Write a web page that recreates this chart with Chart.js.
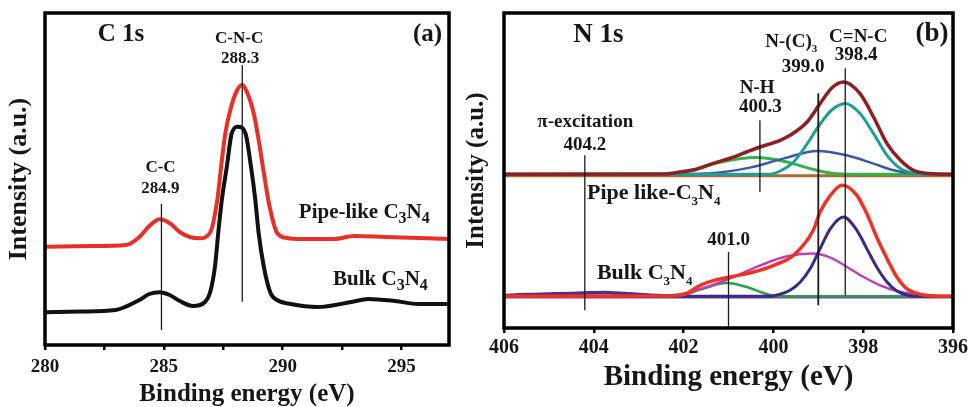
<!DOCTYPE html>
<html>
<head>
<meta charset="utf-8">
<script src="https://cdn.jsdelivr.net/npm/chart.js@4.4.1/dist/chart.umd.min.js"></script>
<style>
  html, body { margin: 0; padding: 0; background: #fff; }
  #wrap { position: relative; width: 971px; height: 407px; overflow: hidden; }
  canvas { position: absolute; top: 0; }
  #c1s { left: 0; }
  #n1s { left: 455px; }
</style>
</head>
<body>
<div id="wrap">
  <canvas id="c1s" width="455" height="407" style="width:455px;height:407px"></canvas>
  <canvas id="n1s" width="516" height="407" style="width:516px;height:407px"></canvas>
</div>
<script>
// ---------- C 1s spectra (binding energy in eV, intensity in a.u.) ----------
const c1sPipeEnergy = [280.0, 282.0, 283.41, 283.97, 284.39, 284.82, 285.24, 285.67, 286.09, 286.51, 286.94, 287.25, 287.41, 287.59, 287.83, 288.07, 288.29, 288.55, 288.78, 288.99, 289.21, 289.42, 289.77, 290.2, 290.76, 292.17, 293.02, 294.29, 297.0];
const c1sPipe       = [98.3, 99, 100, 108, 119, 125.7, 122, 113, 108, 106.7, 112, 145, 178, 212, 238, 254, 260, 250, 232, 205, 172, 142, 112, 107, 106, 106, 109, 108, 106];

const c1sBulkEnergy = [280.0, 281.5, 282.97, 283.97, 284.39, 284.82, 285.24, 285.67, 286.23, 286.73, 286.94, 287.15, 287.29, 287.44, 287.65, 287.86, 288.13, 288.43, 288.67, 288.85, 288.99, 289.21, 289.49, 289.77, 290.34, 291.47, 292.89, 293.6, 294.73, 295.72, 297.0];
const c1sBulk       = [32.7, 33.5, 35, 45, 51, 52.7, 50, 44, 39, 43, 52, 78, 112, 145, 178, 212, 218.3, 212, 178, 145, 112, 78, 52, 45, 41, 38, 43, 46, 44, 41, 41];

// C 1s peak assignments (eV) and the intensity span of each marker line
const c1sPeakEnergy = [284.9, 288.3];
const c1sPeakName   = ['C-C', 'C-N-C'];
const c1sMarkFrom   = [15, 43.3];
const c1sMarkTo     = [141, 280];

// ---------- N 1s spectra, pipe-like C3N4 ----------
const pipeEnvEnergy   = [406, 402.5, 402.08, 401.7, 401.34, 400.95, 400.6, 400.3, 399.85, 399.63, 399.25, 398.96, 398.7, 398.44, 398.07, 397.77, 397.47, 397.17, 396.88, 396.51, 396];
const pipeEnv         = [153.7, 154, 156, 159, 164.7, 170, 176, 181, 187.7, 192.7, 206, 224.4, 240, 246, 234.4, 211, 184.4, 167.7, 157.7, 154.4, 153.7];
const pipeCNCEnergy   = [406, 400.1, 399.85, 399.55, 399.25, 398.96, 398.7, 398.4, 398.07, 397.77, 397.47, 397.17, 396.88, 396.6, 396];
const pipeCNC         = [153.7, 153.7, 157, 166, 184, 204, 218, 224.4, 214.4, 194.4, 172.7, 159.4, 154.7, 153.9, 153.7];
const pipeNC3Energy   = [406, 402.2, 401.48, 400.52, 399.78, 399.03, 398.37, 397.77, 397.32, 396.88, 396.3, 396];
const pipeNC3         = [153.7, 153.7, 154.4, 160.4, 169.4, 177, 172.7, 164.4, 157.7, 154.4, 153.7, 153.7];
const pipeNHEnergy    = [406, 402.52, 401.93, 401.26, 400.37, 399.7, 399.18, 398.66, 398.2, 396];
const pipeNH          = [153.7, 153.7, 156, 165, 170.4, 166, 159.4, 154.4, 153.7, 153.7];
const pipeBaseEnergy  = [406, 396];
const pipeBase        = [152.2, 152.2];

// ---------- N 1s spectra, bulk C3N4 ----------
const bulkEnvEnergy   = [406, 402.5, 402.08, 401.93, 401.63, 401.26, 400.89, 400.44, 399.99, 399.55, 399.11, 398.96, 398.73, 398.47, 398.14, 397.92, 397.7, 397.47, 397.25, 397.03, 396.73, 396.3, 396];
const bulkEnv         = [31.7, 31.9, 32.7, 34.4, 42.7, 48.4, 51.7, 56, 62.7, 72.7, 98, 116, 132.7, 142.7, 132.7, 114.4, 91, 69.4, 51, 39.4, 33.7, 31.8, 31.7];
const bulkCNCEnergy   = [406, 400.1, 399.85, 399.63, 399.4, 399.18, 398.96, 398.73, 398.44, 398.14, 397.92, 397.7, 397.47, 397.25, 397.03, 396.8, 396];
const bulkCNC         = [31.7, 31.7, 33.7, 37.7, 46, 59.4, 79.4, 99.4, 111, 97.7, 79.4, 61, 46, 37, 33, 31.7, 31.7];
const bulkNC3Energy   = [406, 402.6, 402.08, 401.48, 400.89, 400.29, 399.7, 399.14, 398.73, 398.36, 397.99, 397.62, 397.25, 396.88, 396.51, 396];
const bulkNC3         = [31.7, 31.7, 33.7, 41, 51, 62.7, 71.7, 74.4, 70.4, 61, 51, 42.7, 37, 33.7, 32, 31.7];
const bulkNHEnergy    = [406, 402.15, 401.93, 401.63, 401.04, 400.59, 400.22, 399.92, 396];
const bulkNH          = [31.7, 31.7, 33.7, 38.4, 45, 41, 35, 31.7, 31.7];
const bulkPiEnergy    = [406, 405.5, 405, 404.5, 404.2, 403.8, 403.3, 402.8, 402.3];
const bulkPi          = [32.5, 33.5, 34, 34.5, 35, 35.5, 34.5, 33, 32];
const bulkBaseEnergy  = [406, 396];
const bulkBase        = [31, 31];

// N 1s peak assignments (eV) and the intensity span of each marker line
const n1sPeakEnergy = [404.2, 401.0, 400.3, 399.0, 398.4];
const n1sMarkFrom   = [17.7, 0, 136, 22.7, 32.7];
const n1sMarkTo     = [172.7, 76, 207.7, 234.7, 259.7];

// ---------- helpers ----------
const SERIF = '"Liberation Serif", "Times New Roman", serif';
const pts = (xs, ys) => xs.map((x, i) => ({ x, y: ys[i] }));

function curve(xs, ys, color, width) {
  return { data: pts(xs, ys), borderColor: color, borderWidth: width,
           cubicInterpolationMode: 'monotone', pointRadius: 0, fill: false };
}
function marker(e, from, to, width) {
  return { data: [{ x: e, y: from }, { x: e, y: to }], borderColor: '#1a1a1a',
           borderWidth: width || 1.3, tension: 0, cubicInterpolationMode: 'default',
           pointRadius: 0, fill: false };
}

// Split "C_3N_4" into normal and subscript runs
function runs(text) {
  const out = []; let buf = '';
  for (let i = 0; i < text.length; i++) {
    if (text[i] === '_' && i + 1 < text.length) {
      if (buf) out.push({ t: buf, sub: false });
      buf = '';
      out.push({ t: text[i + 1], sub: true });
      i++;
    } else buf += text[i];
  }
  if (buf) out.push({ t: buf, sub: false });
  return out;
}

function drawRich(ctx, text, x, y, align, size, subScale, subDrop) {
  const main = `bold ${size}px ${SERIF}`;
  const small = `bold ${Math.round(size * subScale)}px ${SERIF}`;
  const parts = runs(text);
  let total = 0;
  parts.forEach(p => { ctx.font = p.sub ? small : main; p.w = ctx.measureText(p.t).width; total += p.w; });
  let cx = align === 'left' ? x : align === 'right' ? x - total : x - total / 2;
  ctx.textAlign = 'left';
  ctx.textBaseline = 'middle';
  parts.forEach(p => {
    ctx.font = p.sub ? small : main;
    ctx.fillText(p.t, cx, p.sub ? y + size * subDrop : y);
    cx += p.w;
  });
}

// Frame round the plot area plus the peak annotations
const framePlugin = {
  id: 'frame',
  afterDatasetsDraw(chart, args, opts) {
    const { ctx, chartArea: a, scales: { x, y } } = chart;
    ctx.save();
    ctx.strokeStyle = '#000';
    ctx.lineWidth = opts.width;
    ctx.strokeRect(a.left, a.top, a.right - a.left, a.bottom - a.top);
    ctx.fillStyle = '#161616';
    opts.labels.forEach(l => {
      drawRich(ctx, l.text, x.getPixelForValue(l.e), y.getPixelForValue(l.i),
               l.align || 'center', l.size, opts.subScale, opts.subDrop);
    });
    ctx.restore();
  }
};

function axisFont(size) { return { family: SERIF, size, weight: 'bold' }; }

// ---------- (a) C 1s ----------
new Chart(document.getElementById('c1s'), {
  type: 'line',
  data: {
    datasets: [
      ...c1sPeakEnergy.map((e, i) => marker(e, c1sMarkFrom[i], c1sMarkTo[i])),
      curve(c1sPipeEnergy, c1sPipe, '#e8302a', 4),
      curve(c1sBulkEnergy, c1sBulk, '#111111', 4)
    ]
  },
  options: {
    responsive: false, animation: false, devicePixelRatio: 1,
    layout: { padding: { top: 13, right: 6, left: 0, bottom: 0 } },
    plugins: {
      legend: { display: false }, tooltip: { enabled: false },
      frame: {
        width: 3.5, subScale: 0.78, subDrop: 0.28,
        labels: [
          { text: 'C 1s', e: 282.22, i: 310, size: 25, align: 'left' },
          { text: '(a)', e: 296.71, i: 310, size: 25, align: 'right' },
          { text: c1sPeakName[1], e: 288.17, i: 306, size: 17 },
          { text: c1sPeakEnergy[1].toFixed(1), e: 288.21, i: 286, size: 17 },
          { text: c1sPeakName[0], e: 284.86, i: 177, size: 17 },
          { text: c1sPeakEnergy[0].toFixed(1), e: 284.86, i: 156, size: 17 },
          { text: 'Pipe-like C_3N_4', e: 290.68, i: 132, size: 21, align: 'left' },
          { text: 'Bulk C_3N_4', e: 292.12, i: 65, size: 21, align: 'left' }
        ]
      }
    },
    scales: {
      x: {
        type: 'linear', min: 280, max: 297,
        afterFit: s => { s.height = 62; },
        ticks: { stepSize: 2.5, includeBounds: false, autoSkip: false, maxRotation: 0, padding: 6,
                 color: '#161616', font: axisFont(19),
                 callback: v => (v % 5 === 0 ? String(v) : '') },
        grid: { display: true, drawOnChartArea: false, drawTicks: true, tickLength: 5, lineWidth: 2.5, color: '#000' },
        border: { display: false },
        title: { display: true, text: 'Binding energy (eV)', color: '#161616',
                 font: { family: SERIF, size: 25, weight: 'bold', lineHeight: 1 }, padding: { top: 0, bottom: 0 } }
      },
      y: {
        type: 'linear', min: 0, max: 332,
        afterFit: s => { s.width = 45; },
        ticks: { display: false }, grid: { display: false }, border: { display: false },
        title: { display: true, text: 'Intensity (a.u.)', color: '#161616',
                 font: { family: SERIF, size: 26, weight: 'bold', lineHeight: 1.2 }, padding: { top: 4, bottom: 0 } }
      }
    }
  },
  plugins: [framePlugin]
});

// ---------- (b) N 1s ----------
new Chart(document.getElementById('n1s'), {
  type: 'line',
  data: {
    datasets: [
      ...n1sPeakEnergy.map((e, i) => marker(e, n1sMarkFrom[i], n1sMarkTo[i], e === 399.0 ? 1.8 : 1.3)),
      curve(pipeEnvEnergy, pipeEnv, '#8e1f22', 3.5),
      curve(pipeCNCEnergy, pipeCNC, '#1f9e97', 3),
      curve(pipeNC3Energy, pipeNC3, '#3a58ad', 2.5),
      curve(pipeNHEnergy, pipeNH, '#35b04a', 3),
      curve(pipeBaseEnergy, pipeBase, '#b0682c', 3),
      curve(bulkEnvEnergy, bulkEnv, '#ee3324', 3.5),
      curve(bulkCNCEnergy, bulkCNC, '#382a85', 3),
      curve(bulkNC3Energy, bulkNC3, '#c23fb3', 2.5),
      curve(bulkNHEnergy, bulkNH, '#2a9f48', 2.5),
      curve(bulkPiEnergy, bulkPi, '#4e2f86', 3.5),
      curve(bulkBaseEnergy, bulkBase, '#7b3db8', 3)
    ]
  },
  options: {
    responsive: false, animation: false, devicePixelRatio: 1,
    layout: { padding: { top: 13, right: 18, left: 0, bottom: 0 } },
    plugins: {
      legend: { display: false }, tooltip: { enabled: false },
      frame: {
        width: 3.5, subScale: 0.58, subDrop: 0.38,
        labels: [
          { text: 'N 1s', e: 404.46, i: 292.7, size: 27, align: 'left' },
          { text: '(b)', e: 396.1, i: 293.7, size: 27, align: 'right' },
          { text: 'N-(C)_3', e: 400.18, i: 285.7, size: 19, align: 'left' },
          { text: 'C=N-C', e: 398.11, i: 290.7, size: 19 },
          { text: n1sPeakEnergy[4].toFixed(1), e: 398.16, i: 272.7, size: 19 },
          { text: n1sPeakEnergy[3].toFixed(1), e: 399.34, i: 260.7, size: 19 },
          { text: 'N-H', e: 400.36, i: 239.7, size: 19 },
          { text: n1sPeakEnergy[2].toFixed(1), e: 400.29, i: 220.7, size: 19 },
          { text: 'π-excitation', e: 404.19, i: 205.7, size: 19 },
          { text: n1sPeakEnergy[0].toFixed(1), e: 404.2, i: 182.7, size: 19 },
          { text: n1sPeakEnergy[1].toFixed(1), e: 401.0, i: 87.7, size: 19 },
          { text: 'Pipe like-C_3N_4', e: 404.15, i: 134.7, size: 22, align: 'left' },
          { text: 'Bulk C_3N_4', e: 403.93, i: 54.7, size: 22, align: 'left' }
        ]
      }
    },
    scales: {
      x: {
        type: 'linear', min: 396, max: 406, reverse: true,
        afterFit: s => { s.height = 79; },
        ticks: { stepSize: 2, includeBounds: false, autoSkip: false, maxRotation: 0, padding: 3,
                 color: '#161616', font: axisFont(20) },
        grid: { display: true, drawOnChartArea: false, drawTicks: true, tickLength: 5, lineWidth: 2.5, color: '#000' },
        border: { display: false },
        title: { display: true, text: 'Binding energy (eV)', color: '#161616',
                 font: { family: SERIF, size: 29, weight: 'bold', lineHeight: 1 }, padding: { top: 0, bottom: 14.5 } }
      },
      y: {
        type: 'linear', min: 0, max: 315,
        afterFit: s => { s.width = 49; },
        ticks: { display: false }, grid: { display: false }, border: { display: false },
        title: { display: true, text: 'Intensity (a.u.)', color: '#161616',
                 font: { family: SERIF, size: 25, weight: 'bold', lineHeight: 1.2 }, padding: { top: 7, bottom: 0 } }
      }
    }
  },
  plugins: [framePlugin]
});
</script>
</body>
</html>
